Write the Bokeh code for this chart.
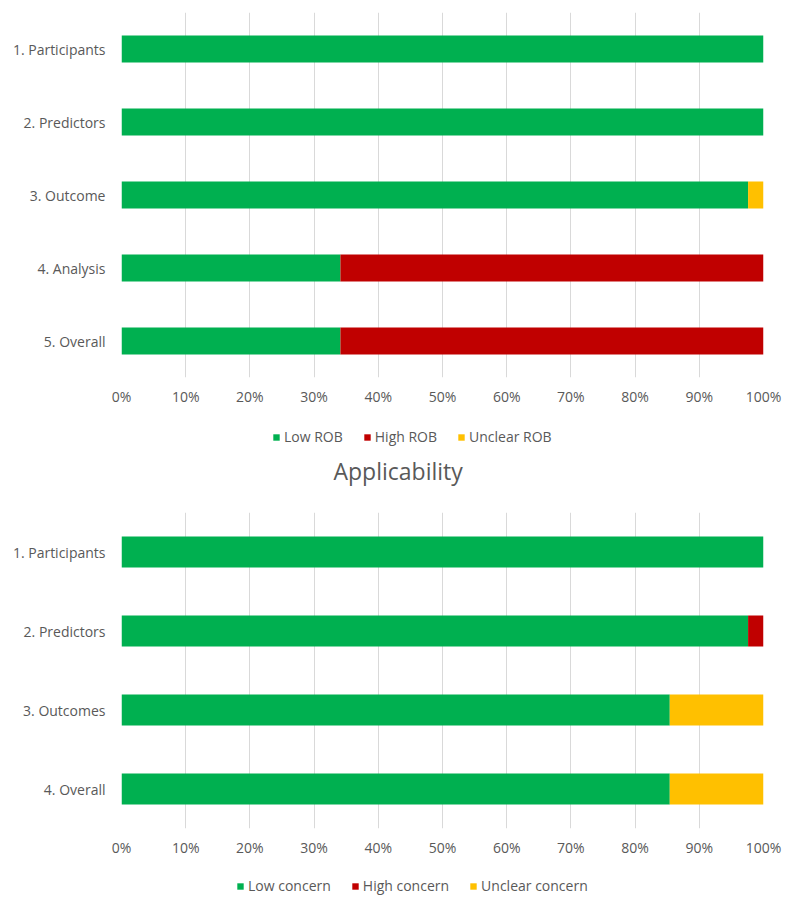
from bokeh.plotting import figure
from bokeh.layouts import column
from bokeh.models import (ColumnDataSource, Range1d, FixedTicker, PrintfTickFormatter,
                          Legend, LegendItem, Title)
from bokeh.embed import file_html
from bokeh.resources import INLINE

# Risk of bias (percent of studies)
rob_domains = ["1. Participants", "2. Predictors", "3. Outcome", "4. Analysis", "5. Overall"]
rob_low = [100.0, 100.0, 97.6, 34.1, 34.1]
rob_high = [0.0, 0.0, 0.0, 65.9, 65.9]
rob_unclear = [0.0, 0.0, 2.4, 0.0, 0.0]
rob_labels = ["Low ROB", "High ROB", "Unclear ROB"]

# Applicability (percent of studies)
app_domains = ["1. Participants", "2. Predictors", "3. Outcomes", "4. Overall"]
app_low = [100.0, 97.6, 85.4, 85.4]
app_high = [0.0, 2.4, 0.0, 0.0]
app_unclear = [0.0, 0.0, 14.6, 14.6]
app_labels = ["Low concern", "High concern", "Unclear concern"]

x_ticks = [0, 10, 20, 30, 40, 50, 60, 70, 80, 90, 100]

COLORS = ["#00B050", "#C00000", "#FFC000"]
FONT = "Open Sans"
TEXT_COLOR = "#595959"
GRID_COLOR = "#d9d9d9"
LABEL_SIZE = "14px"
NAN = float("nan")


def stacked_chart(domains, low, high, unclear, height, top, bottom, bar_h):
    src = ColumnDataSource(dict(domain=domains, low=low, high=high, unclear=unclear))
    p = figure(width=789, height=height, y_range=list(reversed(domains)),
               x_range=Range1d(0, 100), output_backend="svg", toolbar_location=None,
               min_border_left=121, min_border_right=26,
               min_border_top=top, min_border_bottom=bottom)
    p.hbar_stack(["low", "high", "unclear"], y="domain", height=bar_h,
                 color=COLORS, line_color=None, source=src)
    p.outline_line_color = None
    p.ygrid.grid_line_color = None
    p.xgrid.grid_line_color = GRID_COLOR
    p.xgrid.grid_line_width = 1

    xa = p.xaxis[0]
    xa.ticker = FixedTicker(ticks=x_ticks)
    xa.formatter = PrintfTickFormatter(format="%d%%")
    xa.axis_line_color = None
    xa.major_tick_line_color = None
    xa.minor_tick_line_color = None
    xa.major_label_standoff = 3
    xa.major_label_text_font = FONT
    xa.major_label_text_font_size = LABEL_SIZE
    xa.major_label_text_color = TEXT_COLOR

    ya = p.yaxis[0]
    ya.axis_line_color = None
    ya.major_tick_line_color = None
    ya.minor_tick_line_color = None
    ya.major_label_standoff = 10
    ya.major_label_text_font = FONT
    ya.major_label_text_font_size = LABEL_SIZE
    ya.major_label_text_color = TEXT_COLOR
    return p


def key_strip(labels, height, bottom, key_loc):
    # axis-free strip that carries only the colour key under the bars
    p = figure(width=789, height=height, x_range=Range1d(0, 1), y_range=Range1d(0, 1),
               x_axis_location=None, y_axis_location=None,
               output_backend="svg", toolbar_location=None,
               min_border_left=121, min_border_right=26, min_border_top=0,
               min_border_bottom=bottom)
    p.grid.visible = False
    p.outline_line_color = None
    items = []
    for lab, col in zip(labels, COLORS):
        # swatch glyph only (no visible mark): NaN corners keep it off the canvas
        r = p.quad(left=[NAN], right=[NAN], top=[NAN], bottom=[NAN],
                   fill_color=col, line_color=None)
        items.append(LegendItem(label=lab, renderers=[r]))
    legend = Legend(items=items, orientation="horizontal", location=key_loc,
                    glyph_width=8, glyph_height=8, spacing=20, label_standoff=4,
                    label_text_font=FONT, label_text_font_size=LABEL_SIZE,
                    label_text_color=TEXT_COLOR, border_line_color=None,
                    background_fill_alpha=0, margin=0, padding=0)
    p.add_layout(legend, "center")
    return p


top_chart = stacked_chart(rob_domains, rob_low, rob_high, rob_unclear,
                          height=408, top=12, bottom=31, bar_h=0.37)

top_key = key_strip(rob_labels, height=97, bottom=57, key_loc=(151, 2))
top_key.add_layout(Title(text="Applicability", align="left", offset=212,
                         text_font=FONT, text_font_size="23px", text_font_style="normal",
                         text_color=TEXT_COLOR, standoff=9), "below")

bottom_chart = stacked_chart(app_domains, app_low, app_high, app_unclear,
                             height=359, top=7, bottom=36, bar_h=0.39)
bottom_key = key_strip(app_labels, height=37, bottom=0, key_loc=(115, 6))

layout = column(top_chart, top_key, bottom_chart, bottom_key, spacing=0)
open("out.html", "w").write(file_html(layout, INLINE))
